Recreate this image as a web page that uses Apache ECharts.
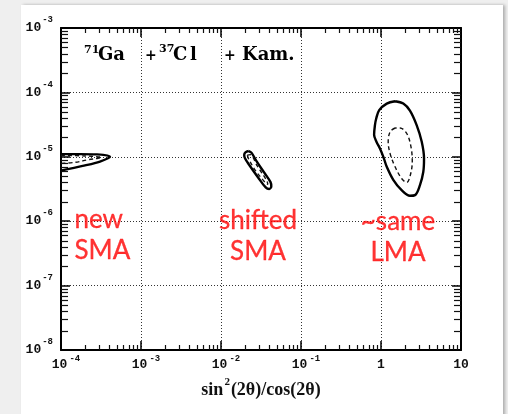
<!DOCTYPE html>
<html>
<head>
<meta charset="utf-8">
<script src="https://cdn.jsdelivr.net/npm/echarts@6/dist/echarts.min.js"></script>
<style>
  html, body { margin: 0; padding: 0; width: 508px; height: 414px; overflow: hidden; background: #efefef; }
  #sheet { position: absolute; left: 21px; top: 5px; width: 482px; height: 430px; background: #fff;
           box-shadow: 2px 0 3px rgba(0,0,0,0.28); }
  #chart { position: absolute; left: 0; top: 0; width: 508px; height: 414px; }
</style>
</head>
<body>
<div id="sheet"></div>
<div id="chart"></div>
<script>
// Allowed regions in the (sin^2 2θ / cos 2θ, Δm^2) plane: [x, y] contour vertices
const lmaOuter = [[1.50,7.3e-5],[1.18,6.7e-5],[0.95,5.3e-5],[0.87,3.9e-5],[0.84,3.1e-5],[0.82,2.2e-5],
  [0.88,1.7e-5],[0.97,1.35e-5],[1.07,1.0e-5],[1.18,7.0e-6],[1.43,4.35e-6],[1.81,3.04e-6],[2.30,2.48e-6],
  [2.66,2.54e-6],[3.07,3.64e-6],[3.38,5.85e-6],[3.45,9.4e-6],[3.23,1.71e-5],[2.79,3.1e-5],[2.30,5.2e-5],
  [1.90,6.7e-5],[1.50,7.3e-5]];
const lmaInner = [[1.50,2.8e-5],[1.30,2.45e-5],[1.23,1.7e-5],[1.30,1.12e-5],[1.50,7.0e-6],[1.81,4.6e-6],
  [2.10,4.0e-6],[2.30,4.9e-6],[2.46,8.4e-6],[2.37,1.43e-5],[2.10,2.3e-5],[1.73,2.8e-5],[1.50,2.8e-5]];
const smaShiftedOuter = [[0.0222,1.23e-5],[0.0240,1.16e-5],[0.0283,8.25e-6],[0.0344,5.77e-6],[0.0416,4.04e-6],
  [0.0425,3.46e-6],[0.0400,3.17e-6],[0.0362,3.35e-6],[0.0291,4.78e-6],[0.0229,7.27e-6],[0.0200,9.4e-6],
  [0.0195,1.07e-5],[0.0202,1.17e-5],[0.0222,1.23e-5]];
const smaShiftedInner = [[0.0213,1.06e-5],[0.0231,1.08e-5],[0.0284,7.2e-6],[0.0374,4.24e-6],[0.0385,3.72e-6],
  [0.0362,3.92e-6],[0.0273,6.0e-6],[0.0224,9.0e-6],[0.0213,1.06e-5]];
const smaNewOuter = [[1e-4,1.10e-5],[1.73e-4,1.10e-5],[2.82e-4,1.09e-5],[4.1e-4,1.0e-5],[3.07e-4,8.45e-6],
  [2.0e-4,7.34e-6],[1.06e-4,6.2e-6],[1e-4,6.0e-6]];
const smaNewInner = [[1e-4,1.05e-5],[2.0e-4,1.03e-5],[3.2e-4,9.8e-6],[2.9e-4,9.5e-6],[2.18e-4,9.0e-6],
  [1.5e-4,8.2e-6],[1e-4,7.9e-6]];

// Axis ranges and tick decades
const xRange = [1e-4, 10];
const yRange = [1e-8, 1e-3];
const xDecades = [1e-4, 1e-3, 1e-2, 1e-1, 1];
const yDecades = [1e-8, 1e-7, 1e-6, 1e-5, 1e-4];
const minorMultipliers = [2, 3, 4, 5, 6, 7, 8, 9];

// Region annotations
const regionNames = ['new\nSMA', 'shifted\nSMA', '~same\nLMA'];
const regionAnchors = [[1.45e-4, 6.0e-7], [0.029, 5.9e-7], [1.63, 5.6e-7]];

const monoFont = '"Liberation Mono", "DejaVu Sans Mono", monospace';
const serifFont = '"DejaVu Serif", "Liberation Serif", serif';

function expOf(v) { return Math.round(Math.log10(v)); }

function minorTicks(params, api) {
  if (params.dataIndex !== 0) return null;
  const cs = params.coordSys;
  const left = cs.x, right = cs.x + cs.width, top = cs.y, bottom = cs.y + cs.height;
  const len = 5;
  const st = { stroke: '#111', lineWidth: 1.2 };
  const kids = [];
  xDecades.forEach(d => minorMultipliers.forEach(m => {
    const px = Math.round(api.coord([d * m, yRange[0]])[0]) + 0.5;
    if (px <= left || px >= right) return;
    kids.push({ type: 'line', shape: { x1: px, y1: bottom, x2: px, y2: bottom - len }, style: st });
    kids.push({ type: 'line', shape: { x1: px, y1: top, x2: px, y2: top + len }, style: st });
  }));
  yDecades.forEach(d => minorMultipliers.forEach(m => {
    const py = Math.round(api.coord([xRange[0], d * m])[1]) + 0.5;
    if (py <= top || py >= bottom) return;
    kids.push({ type: 'line', shape: { x1: left, y1: py, x2: left + len + 2, y2: py }, style: st });
    kids.push({ type: 'line', shape: { x1: right, y1: py, x2: right - len - 2, y2: py }, style: st });
  }));
  return { type: 'group', children: kids };
}

function contour(data, dashed) {
  return {
    type: 'line', data: data, smooth: 0.35, symbol: 'none', silent: true, z: 4,
    lineStyle: dashed
      ? { color: '#111', width: 1.4, type: [4, 3] }
      : { color: '#000', width: 2.4 }
  };
}

const chart = echarts.init(document.getElementById('chart'), null, { renderer: 'canvas' });

const axisLineStyle = { color: '#000', width: 2 };
const gridLine = { show: true, lineStyle: { color: '#333', width: 1, type: [1, 2] } };
const titleFont = 'bold 18px ' + serifFont;
const titleSup = 'bold 11px ' + serifFont;

chart.setOption({
  animation: false,
  backgroundColor: 'transparent',
  grid: { left: 61, right: 47, top: 28, bottom: 64, containLabel: false, outerBoundsMode: 'none' },
  xAxis: [
    {
      type: 'log', logBase: 10, min: xRange[0], max: xRange[1], position: 'bottom',
      axisLine: { lineStyle: axisLineStyle },
      axisTick: { inside: true, length: 9, lineStyle: { color: '#000', width: 1.5 } },
      splitLine: gridLine,
      axisLabel: {
        margin: 4, showMinLabel: true, showMaxLabel: true,
        formatter: v => {
          const e = expOf(v);
          if (e === 0) return '{b0|1}';
          if (e === 1) return '{b0|10}';
          return '{bx|10}{s|' + e + '}';
        },
        rich: {
          b0: { fontFamily: monoFont, fontWeight: 'bold', fontSize: 13, color: '#111', height: 13, lineHeight: 17, verticalAlign: 'bottom' },
          bx: { fontFamily: monoFont, fontWeight: 'bold', fontSize: 13, color: '#111', height: 13, lineHeight: 17, verticalAlign: 'bottom', padding: [0, 2, 0, 10] },
          s: { fontFamily: monoFont, fontWeight: 'bold', fontSize: 9, color: '#111', height: 9, lineHeight: 17, verticalAlign: 'top' }
        }
      },
      name: '{a|sin}{p|2}{a|(2θ)/cos(2θ)}',
      nameLocation: 'middle', nameGap: 27,
      nameTextStyle: {
        rich: {
          a: { fontFamily: '"Liberation Serif", serif', fontWeight: 'bold', fontSize: 18, color: '#111', height: 18, lineHeight: 22, verticalAlign: 'bottom' },
          p: { fontFamily: '"Liberation Serif", serif', fontWeight: 'bold', fontSize: 11, color: '#111', height: 11, lineHeight: 22, verticalAlign: 'top', padding: [0, 1, 0, 1] }
        }
      }
    },
    {
      type: 'log', logBase: 10, min: xRange[0], max: xRange[1], position: 'top',
      axisLine: { lineStyle: axisLineStyle },
      axisTick: { inside: true, length: 9, lineStyle: { color: '#000', width: 1.5 } },
      axisLabel: { show: false }, splitLine: { show: false }
    }
  ],
  yAxis: [
    {
      type: 'log', logBase: 10, min: yRange[0], max: yRange[1], position: 'left',
      axisLine: { lineStyle: axisLineStyle },
      axisTick: { inside: true, length: 9, lineStyle: { color: '#000', width: 1.5 } },
      splitLine: gridLine,
      axisLabel: {
        margin: 8, showMinLabel: true, showMaxLabel: true, padding: [0, 0, 6, 0],
        formatter: v => '{b|10}{s|' + expOf(v) + '}',
        rich: {
          b: { fontFamily: monoFont, fontWeight: 'bold', fontSize: 13, color: '#111', height: 13, lineHeight: 19, verticalAlign: 'bottom', padding: [0, 1, 0, 0] },
          s: { fontFamily: monoFont, fontWeight: 'bold', fontSize: 9, color: '#111', height: 9, lineHeight: 19, verticalAlign: 'top' }
        }
      }
    },
    {
      type: 'log', logBase: 10, min: yRange[0], max: yRange[1], position: 'right',
      axisLine: { lineStyle: axisLineStyle },
      axisTick: { inside: true, length: 9, lineStyle: { color: '#000', width: 1.5 } },
      axisLabel: { show: false }, splitLine: { show: false }
    }
  ],
  graphic: [
    { type: 'text', x: 84, y: 50, style: { text: '71', font: titleSup, fill: '#000', textVerticalAlign: 'middle' } },
    { type: 'text', x: 98, y: 55.5, style: { text: 'Ga', font: titleFont, fill: '#000', textVerticalAlign: 'middle' } },
    { type: 'text', x: 145, y: 56, style: { text: '+', font: 'bold 14px ' + serifFont, fill: '#000', textVerticalAlign: 'middle' } },
    { type: 'text', x: 159, y: 49.5, style: { text: '37', font: titleSup, fill: '#000', textVerticalAlign: 'middle' } },
    { type: 'text', x: 173, y: 55.5, style: { text: 'C', font: titleFont, fill: '#000', textVerticalAlign: 'middle' } },
    { type: 'text', x: 190, y: 55.5, style: { text: 'l', font: titleFont, fill: '#000', textVerticalAlign: 'middle' } },
    { type: 'text', x: 224, y: 56, style: { text: '+', font: 'bold 14px ' + serifFont, fill: '#000', textVerticalAlign: 'middle' } },
    { type: 'text', x: 242, y: 55.5, style: { text: 'Kam.', font: titleFont, fill: '#000', textVerticalAlign: 'middle' } }
  ],
  series: [
    {
      type: 'custom', coordinateSystem: 'cartesian2d', renderItem: minorTicks,
      data: [[xRange[0], yRange[0]]], silent: true, clip: false, z: 3
    },
    contour(smaNewOuter, false),
    contour(smaNewInner, true),
    contour(smaShiftedOuter, false),
    contour(smaShiftedInner, true),
    contour(lmaOuter, false),
    contour(lmaInner, true),
    {
      type: 'scatter', symbolSize: 1, silent: true, z: 6,
      itemStyle: { color: 'rgba(0,0,0,0)' },
      data: regionNames.map((name, i) => ({
        value: regionAnchors[i],
        name: name,
        label: i === 0 ? { position: 'right', distance: 0, align: 'left' } : { position: 'inside', align: 'center' }
      })),
      label: {
        show: true, formatter: p => p.name,
        fontFamily: 'Lato, "Noto Sans", sans-serif', fontSize: 26, lineHeight: 31,
        color: '#ff0000', textBorderColor: '#ff0000', textBorderWidth: 0.3, verticalAlign: 'middle'
      }
    }
  ]
});
</script>
</body>
</html>
